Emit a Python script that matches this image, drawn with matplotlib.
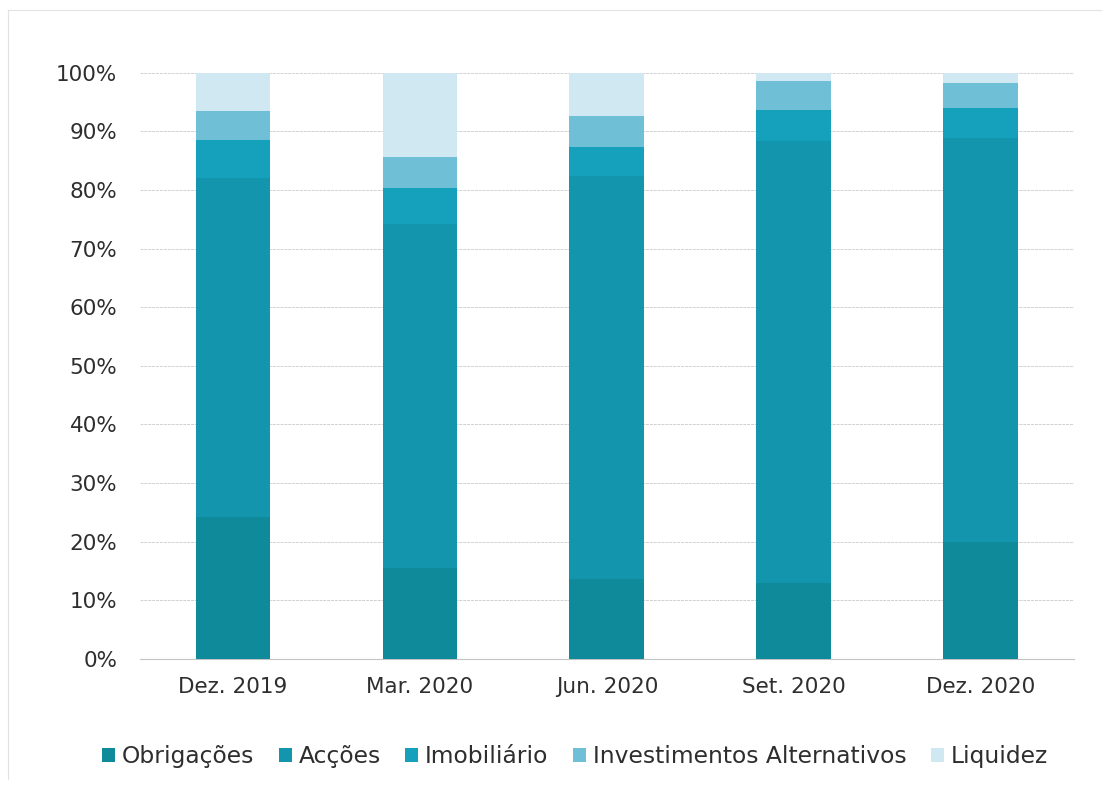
import matplotlib
matplotlib.use("Agg")
import matplotlib.pyplot as plt
import numpy as np
from matplotlib.lines import Line2D
from matplotlib.ticker import FuncFormatter, MultipleLocator

plt.rcParams["font.family"] = ["DejaVu Sans"]

periods = ["Dez. 2019", "Mar. 2020", "Jun. 2020", "Set. 2020", "Dez. 2020"]
obrigacoes = [24.1, 15.5, 13.6, 12.9, 19.9]
accoes = [57.9, 58.7, 68.8, 75.5, 69.0]
imobiliario = [6.5, 6.2, 4.9, 5.2, 5.0]
invest_alt = [5.0, 5.3, 5.3, 5.0, 4.3]
liquidez = [6.5, 14.3, 7.4, 1.4, 1.8]

series = [
    ("Obrigações", obrigacoes, "#0e8a9b"),
    ("Acções", accoes, "#1395ad"),
    ("Imobiliário", imobiliario, "#15a1bb"),
    ("Investimentos Alternativos", invest_alt, "#6fbfd6"),
    ("Liquidez", liquidez, "#d0e8f2"),
]

fig = plt.figure(figsize=(11.12, 7.87), dpi=100)
ax = fig.add_axes([0.1255, 0.163, 0.8405, 0.7446])

x = np.arange(len(periods))
bottom = np.zeros(len(periods))
for name, vals, color in series:
    v = np.array(vals) / 100.0
    ax.bar(x, v, width=0.4, bottom=bottom, color=color, label=name, zorder=3)
    bottom += v

ax.set_xlim(-0.5, len(periods) - 0.5)
ax.set_ylim(0, 1.0)
ax.yaxis.set_major_locator(MultipleLocator(0.1))
ax.yaxis.set_major_formatter(FuncFormatter(lambda y, _: f"{y * 100:.0f}%"))
ax.set_xticks(x)
ax.set_xticklabels(periods)

ax.grid(axis="y", color="#d0d0d0", linewidth=0.7, linestyle=(0, (3, 1)), zorder=0)
for side in ["top", "right", "left"]:
    ax.spines[side].set_visible(False)
ax.spines["bottom"].set_color("#c4c4c4")
ax.spines["bottom"].set_linewidth(0.8)
ax.tick_params(axis="both", length=0, labelsize=15.5, colors="#2e2e2e")
ax.tick_params(axis="y", pad=16)
ax.tick_params(axis="x", pad=13)

ax.legend(
    loc="upper center",
    bbox_to_anchor=(0.466, -0.112),
    ncol=5,
    frameon=False,
    fontsize=16.8,
    handlelength=0.55,
    handleheight=0.55,
    handletextpad=0.3,
    columnspacing=1.05,
    labelcolor="#2e2e2e",
)

# faint outer frame along top and left edges
fig.add_artist(Line2D([0.007, 0.99], [0.987, 0.987], transform=fig.transFigure,
                      color="#e2e2e2", linewidth=0.8))
fig.add_artist(Line2D([0.007, 0.007], [0.987, 0.01], transform=fig.transFigure,
                      color="#e2e2e2", linewidth=0.8))

fig.savefig("out.png", dpi=100, facecolor="white")
